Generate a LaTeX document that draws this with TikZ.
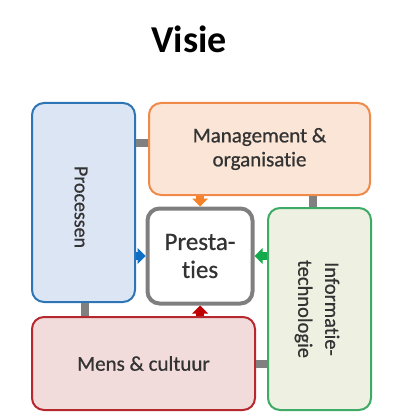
\documentclass[tikz,border=0pt]{standalone}
\usepackage{fontspec}
\setmainfont{Carlito}
\newfontfamily\boxfont[FakeBold=0.7,Ligatures=NoCommon]{Carlito}
\usetikzlibrary{calc}
\definecolor{txt}{HTML}{333333}
\definecolor{procfill}{HTML}{DCE5F3}
\definecolor{procline}{HTML}{2E75B6}
\definecolor{mgmtfill}{HTML}{FBE5D6}
\definecolor{mgmtline}{HTML}{F08A4B}
\definecolor{infofill}{HTML}{EEF0E2}
\definecolor{infoline}{HTML}{3DAA66}
\definecolor{mensfill}{HTML}{F2DCDB}
\definecolor{mensline}{HTML}{B7282E}
\definecolor{prestline}{HTML}{7F7F7F}
\definecolor{connc}{HTML}{808080}
\definecolor{arrorange}{HTML}{F5822A}
\definecolor{arrblue}{HTML}{0F6FC6}
\definecolor{arrgreen}{HTML}{12AA4A}
\definecolor{arrred}{HTML}{C00000}
\tikzset{
  box/.style={rectangle, rounded corners=12pt, line width=2pt, inner sep=0pt, text=txt, align=center},
  conn/.style={draw=connc, line width=8pt},
  shaft/.style={line width=8pt},
}
\begin{document}
\begin{tikzpicture}[x=1pt,y=-1pt]
\useasboundingbox (0,0) rectangle (405,414);
\node[font=\bfseries\fontsize{38}{42}\selectfont] (title) at (189,39) {Visie};
\node[box, draw=procline, fill=procfill, minimum width=103pt, minimum height=199pt] (proc) at (83.5,202.5) {};
\node[rotate=-90, text=txt, font=\boxfont\fontsize{20}{24}\selectfont] (proctxt) at (81,207) {Processen};
\node[box, draw=mgmtline, fill=mgmtfill, minimum width=221pt, minimum height=92pt, font=\boxfont\fontsize{21}{24}\selectfont] (mgmt) at (259.5,149) {Management \&\\organisatie};
\node[box, draw=prestline, fill=white, line width=4pt, minimum width=105pt, minimum height=95pt, font=\boxfont\fontsize{25}{28}\selectfont] (prest) at (200,256) {Presta-\\ties};
\node[box, draw=infoline, fill=infofill, minimum width=103pt, minimum height=202pt] (info) at (319.5,309) {};
\node[rotate=-90, text=txt, align=center, font=\boxfont\fontsize{20.5}{27}\selectfont] (infotxt) at (317,309) {Informatie-\\technologie};
\node[box, draw=mensline, fill=mensfill, minimum width=223pt, minimum height=93pt, font=\boxfont\fontsize{21}{24}\selectfont] (mens) at (143.5,363.5) {Mens \& cultuur};
% grey connectors
\coordinate (c1) at (0,143);
\coordinate (c2) at (313,0);
\coordinate (c3) at (85,0);
\draw[conn] (proc.east |- c1) -- (mgmt.west |- c1);
\draw[conn] (mgmt.south -| c2) -- (info.north -| c2);
\draw[conn] (proc.south -| c3) -- (mens.north -| c3);
\draw[conn] (mens.east) -- (info.west |- mens.east);
% block arrows
\draw[shaft, arrorange] (mgmt.south -| prest.north) -- ($(prest.north)+(0,-7)$);
\fill[arrorange] ($(prest.north)+(-8,-8)$) -- ($(prest.north)+(8,-8)$) -- (prest.north) -- cycle;
\draw[shaft, arrblue] (proc.east |- prest.west) -- ($(prest.west)+(-7,0)$);
\fill[arrblue] ($(prest.west)+(-8,-8)$) -- ($(prest.west)+(-8,8)$) -- (prest.west) -- cycle;
\draw[shaft, arrgreen] (info.west |- prest.east) -- ($(prest.east)+(7,0)$);
\fill[arrgreen] ($(prest.east)+(8,-8)$) -- ($(prest.east)+(8,8)$) -- (prest.east) -- cycle;
\draw[shaft, arrred] (mens.north -| prest.south) -- ($(prest.south)+(0,7)$);
\fill[arrred] ($(prest.south)+(-8,8)$) -- ($(prest.south)+(8,8)$) -- (prest.south) -- cycle;
\end{tikzpicture}
\end{document}
